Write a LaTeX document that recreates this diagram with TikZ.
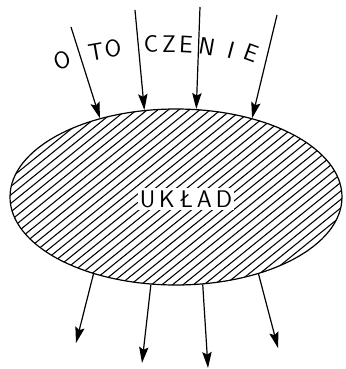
\documentclass[tikz,border=0pt]{standalone}
\usetikzlibrary{positioning,arrows.meta,shapes.geometric}
\begin{document}
\begin{tikzpicture}[
  x=0.75pt, y=-0.75pt,
  ukladbox/.style={draw, ellipse, line width=0.9pt, minimum width=249pt, minimum height=132pt,
                   inner sep=0pt},
  hatch/.style={line width=0.8pt},
  ukladtext/.style={fill=white, inner sep=1.5pt, font=\sffamily\fontsize{18}{20}\selectfont},
  envletter/.style={inner sep=0pt, font=\sffamily\fontsize{18}{20}\selectfont},
  arr/.style={-{Stealth[length=12pt, width=7pt, inset=2pt]}, line width=0.9pt},
]

\useasboundingbox (0,0) rectangle (346,369);

% System
\node[ukladbox] (uklad) at (176,197) {};
\begin{scope}
  \clip (uklad.center) ellipse [x radius=124.5pt, y radius=66pt];
  \begin{scope}[shift={(uklad.center)}, rotate=39]
    \foreach \k in {-20,...,20}
      \draw[hatch] (-200,\k*6.6) -- (200,\k*6.6);
  \end{scope}
\end{scope}
\node[ukladtext] (nazwa) at (186,199) {U\hspace{3pt}K\hspace{3pt}Ł\hspace{3pt}A\hspace{3pt}D};

% Environment
\foreach \ch/\x/\y/\r [count=\i] in {O/62/60/15, T/96/52/10, O/113/48/5, C/151/44/2,
    Z/169/44/0, E/186/45/-3, N/207/47/-10, I/231/50/-15, E/251/53/-20}
  \node[envletter, rotate=\r] (lit\i) at (\x,\y) {\ch};

% Inflow
\coordinate (in1) at (71,27);
\coordinate (in2) at (135,10);
\coordinate (in3) at (200,7);
\coordinate (in4) at (277,15);

\draw[arr] (in1) -- (uklad.134.6);
\draw[arr] (in2) -- (uklad.110);
\draw[arr] (in3) -- (uklad.77.7);
\draw[arr] (in4) -- (uklad.46.8);

% Outflow
\coordinate (out1) at (76,343);
\coordinate (out2) at (142,363);
\coordinate (out3) at (208,368);
\coordinate (out4) at (278,348);

\draw[arr] (uklad.223.5) -- (out1);
\draw[arr] (uklad.254.6) -- (out2);
\draw[arr] (uklad.287.6) -- (out3);
\draw[arr] (uklad.317.1) -- (out4);
\end{tikzpicture}
\end{document}
